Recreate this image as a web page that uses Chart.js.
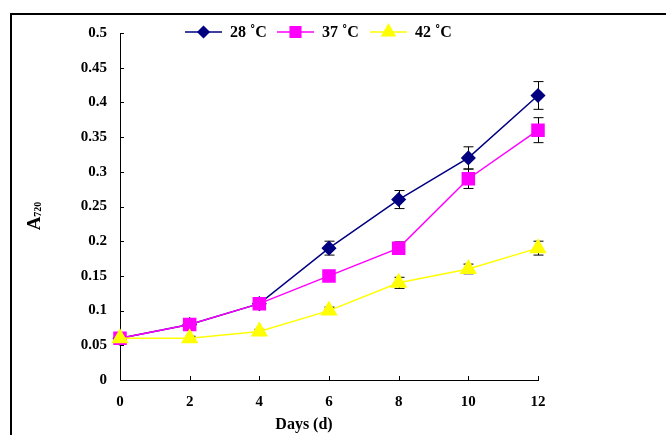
<!DOCTYPE html>
<html lang="en">
<head>
    <meta charset="UTF-8">
    <title>A720 vs days</title>
    <script src="https://cdn.jsdelivr.net/npm/chart.js"></script>
    <style>
        html, body { margin: 0; padding: 0; background: #fff; }
        #wrap { width: 666px; height: 435px; }
    </style>
</head>
<body>
    <div id="wrap"><canvas id="myChart" width="666" height="435"></canvas></div>
    <script>
        // donnees
        const days = [0, 2, 4, 6, 8, 10, 12];
        const seriesNames = ['28 \u02DAC', '37 \u02DAC', '42 \u02DAC'];
        const a28 = [0.06, 0.08, 0.11, 0.19, 0.26, 0.32, 0.41];
        const a37 = [0.06, 0.08, 0.11, 0.15, 0.19, 0.29, 0.36];
        const a42 = [0.06, 0.06, 0.07, 0.10, 0.14, 0.16, 0.19];
        const err28 = [0.002, 0.002, 0.003, 0.01, 0.013, 0.016, 0.02];
        const err37 = [0.002, 0.002, 0.003, 0.005, 0.009, 0.014, 0.018];
        const err42 = [0.002, 0.003, 0.003, 0.005, 0.008, 0.007, 0.01];
        const yTickLabels = ['0', '0.05', '0.1', '0.15', '0.2', '0.25', '0.3', '0.35', '0.4', '0.45', '0.5'];
        const xTickLabels = ['0', '2', '4', '6', '8', '10', '12'];
        const xTitle = 'Days (d)';

        const FONT = '"Liberation Serif", "Times New Roman", serif';

        function pts(vals) {
            return days.map((d, i) => ({ x: d, y: vals[i] }));
        }

        // cadre, barres d'erreur, graduations internes, legende et titres
        const decor = {
            id: 'decor',
            beforeDraw(chart) {
                const ctx = chart.ctx;
                ctx.save();
                ctx.strokeStyle = '#000';
                ctx.lineWidth = 2;
                ctx.beginPath();
                ctx.moveTo(11, 435);
                ctx.lineTo(11, 14);
                ctx.lineTo(666, 14);
                ctx.stroke();
                ctx.restore();
            },
            beforeDatasetsDraw(chart) {
                const ctx = chart.ctx;
                const xs = chart.scales.x, ys = chart.scales.y;
                const errs = [err28, err37, err42];
                ctx.save();
                ctx.strokeStyle = '#000';
                ctx.lineWidth = 1;
                chart.data.datasets.forEach((ds, k) => {
                    ds.data.forEach((p, i) => {
                        const e = errs[k][i];
                        const px = Math.round(xs.getPixelForValue(p.x)) + 0.5;
                        const top = ys.getPixelForValue(p.y + e);
                        const bot = ys.getPixelForValue(p.y - e);
                        ctx.beginPath();
                        ctx.moveTo(px, top); ctx.lineTo(px, bot);
                        ctx.moveTo(px - 5, top); ctx.lineTo(px + 5, top);
                        ctx.moveTo(px - 5, bot); ctx.lineTo(px + 5, bot);
                        ctx.stroke();
                    });
                });
                ctx.restore();
            },
            afterDraw(chart) {
                const ctx = chart.ctx;
                const xs = chart.scales.x, ys = chart.scales.y;
                const area = chart.chartArea;
                ctx.save();
                ctx.strokeStyle = '#000';
                ctx.lineWidth = 1;
                ctx.beginPath();
                ys.ticks.forEach(t => {
                    const py = Math.round(ys.getPixelForValue(t.value)) + 0.5;
                    ctx.moveTo(area.left, py); ctx.lineTo(area.left + 4, py);
                });
                xs.ticks.forEach(t => {
                    const px = Math.round(xs.getPixelForValue(t.value)) + 0.5;
                    ctx.moveTo(px, area.bottom); ctx.lineTo(px, area.bottom - 4);
                });
                ctx.stroke();

                // legende
                ctx.font = 'bold 16px ' + FONT;
                ctx.textBaseline = 'middle';
                ctx.fillStyle = '#000';
                const ly = 32;
                const lx = [185, 277, 370];
                chart.data.datasets.forEach((ds, k) => {
                    const x0 = lx[k];
                    ctx.strokeStyle = ds.borderColor;
                    ctx.lineWidth = 1.5;
                    ctx.beginPath();
                    ctx.moveTo(x0, ly); ctx.lineTo(x0 + 37, ly);
                    ctx.stroke();
                    ctx.fillStyle = ds.pointBackgroundColor;
                    ctx.strokeStyle = ds.pointBorderColor;
                    Chart.helpers.drawPoint(ctx, {
                        pointStyle: ds.pointStyle, radius: ds.pointRadius - 1, borderWidth: 1, rotation: 0
                    }, x0 + 18.5, ly);
                    ctx.fillStyle = '#000';
                    ctx.textAlign = 'left';
                    ctx.fillText(seriesNames[k], x0 + 45, ly + 1);
                });

                // titres des axes
                ctx.textAlign = 'center';
                ctx.textBaseline = 'alphabetic';
                ctx.fillText(xTitle, 304, 429);

                ctx.translate(40, 216);
                ctx.rotate(-Math.PI / 2);
                ctx.textAlign = 'left';
                ctx.font = 'bold 19px ' + FONT;
                const wA = ctx.measureText('A').width;
                ctx.font = 'bold 10px ' + FONT;
                const wS = ctx.measureText('720').width;
                const x0 = -(wA + wS) / 2;
                ctx.font = 'bold 19px ' + FONT;
                ctx.fillText('A', x0, 0);
                ctx.font = 'bold 10px ' + FONT;
                ctx.fillText('720', x0 + wA, 1);
                ctx.restore();
            }
        };

        function drawChart() {
            const ctx = document.getElementById('myChart').getContext('2d');
            new Chart(ctx, {
                type: 'line',
                data: {
                    datasets: [
                        {
                            label: seriesNames[0], data: pts(a28), order: 3, clip: false,
                            borderColor: '#000080', borderWidth: 1.5,
                            pointStyle: 'rectRot', pointRadius: 6.5,
                            pointBackgroundColor: '#000080', pointBorderColor: '#000080'
                        },
                        {
                            label: seriesNames[1], data: pts(a37), order: 2, clip: false,
                            borderColor: '#FF00FF', borderWidth: 1.5,
                            pointStyle: 'rect', pointRadius: 8.5,
                            pointBackgroundColor: '#FF00FF', pointBorderColor: '#FF00FF'
                        },
                        {
                            label: seriesNames[2], data: pts(a42), order: 1, clip: false,
                            borderColor: '#FFFF00', borderWidth: 1.5,
                            pointStyle: 'triangle', pointRadius: 8.5,
                            pointBackgroundColor: '#FFFF00', pointBorderColor: '#FFFF00'
                        }
                    ]
                },
                options: {
                    responsive: false,
                    animation: false,
                    layout: { padding: { left: 60, right: 128, top: 33, bottom: 15 } },
                    scales: {
                        x: {
                            type: 'linear', min: 0, max: 12,
                            grid: { display: false, drawTicks: false },
                            border: { display: true, color: '#000', width: 1 },
                            ticks: {
                                stepSize: 2, padding: 13, color: '#000',
                                font: { family: FONT, size: 15, weight: 'bold' },
                                callback: (v, i) => xTickLabels[i]
                            },
                            afterFit: s => { s.height = 40; }
                        },
                        y: {
                            min: 0, max: 0.5,
                            grid: { display: false, drawTicks: false },
                            border: { display: true, color: '#000', width: 1 },
                            ticks: {
                                stepSize: 0.05, padding: 13, color: '#000',
                                font: { family: FONT, size: 15, weight: 'bold' },
                                callback: (v, i) => yTickLabels[i]
                            },
                            afterFit: s => { s.width = 60; }
                        }
                    },
                    plugins: {
                        legend: { display: false },
                        tooltip: { enabled: false }
                    }
                },
                plugins: [decor]
            });
        }

        window.onload = drawChart;
    </script>
</body>
</html>
